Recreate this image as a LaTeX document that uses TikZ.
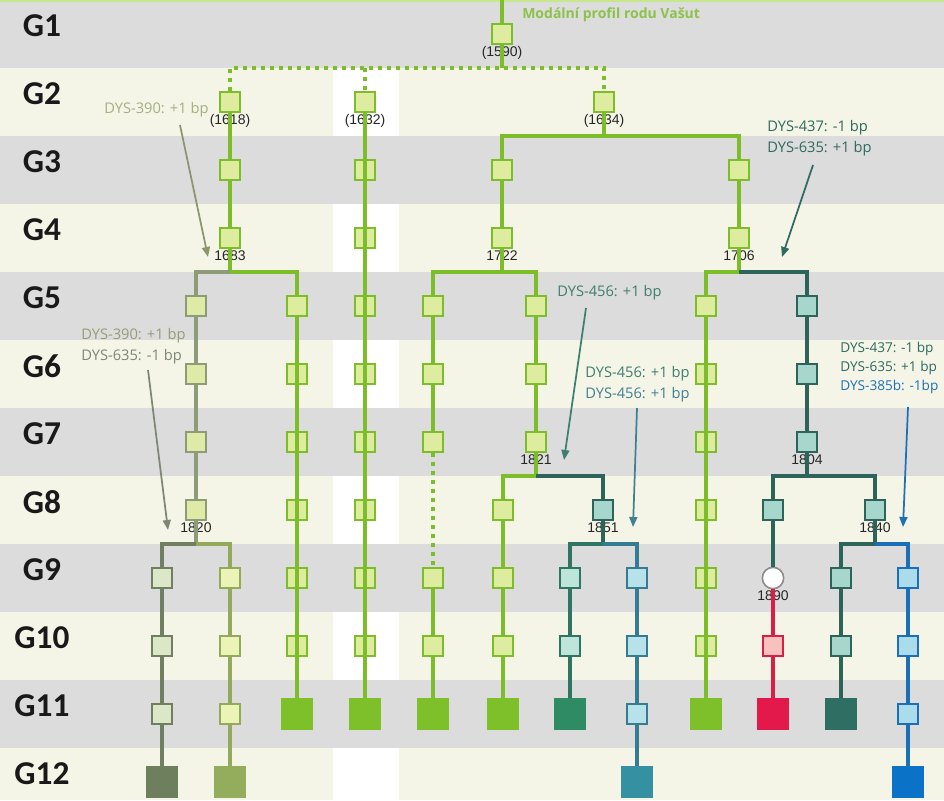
\documentclass[tikz,border=0pt]{standalone}
\usepackage{fontspec}
\setmainfont{Open Sans}
\newfontfamily\genfont{Carlito}
\newfontfamily\yearfont{Liberation Sans}
\usetikzlibrary{positioning}
\usetikzlibrary{arrows.meta}

% bands
\definecolor{bandgray}{HTML}{DCDCDC}
\definecolor{bandcream}{HTML}{F4F5E7}
\definecolor{topline}{HTML}{C6E88C}
% lineages: line / small fill / end square
\definecolor{lnGreen}{HTML}{7DBD2A}\definecolor{fiGreen}{HTML}{DDEC9F}\definecolor{enGreen}{HTML}{7DC02A}
\definecolor{lnOlive}{HTML}{8D9B78}\definecolor{fiOlive}{HTML}{DEEAA6}\definecolor{enOlive}{HTML}{8D9B78}
\definecolor{lnSlate}{HTML}{6F7F60}\definecolor{fiSlate}{HTML}{DCE7C7}\definecolor{enSlate}{HTML}{6E7F5E}
\definecolor{lnMoss}{HTML}{93A95C}\definecolor{fiMoss}{HTML}{EBF3B6}\definecolor{enMoss}{HTML}{93AD5C}
\definecolor{lnTeal}{HTML}{2D6459}\definecolor{fiTeal}{HTML}{A6D6CC}\definecolor{enTeal}{HTML}{2F6E62}
\definecolor{lnJade}{HTML}{2F7563}\definecolor{fiJade}{HTML}{BEE5DA}\definecolor{enJade}{HTML}{2E8B63}
\definecolor{lnPetrol}{HTML}{337C92}\definecolor{fiPetrol}{HTML}{B8E2EA}\definecolor{enPetrol}{HTML}{3590A2}
\definecolor{lnRed}{HTML}{D81F48}\definecolor{fiRed}{HTML}{F8C1BD}\definecolor{enRed}{HTML}{E2194A}
\definecolor{lnBlue}{HTML}{1B70B5}\definecolor{fiBlue}{HTML}{AADCEB}\definecolor{enBlue}{HTML}{0A73C8}
% notes
\definecolor{ntOlive}{HTML}{A4AF82}
\definecolor{ntGray}{HTML}{7E8674}
\definecolor{ntTeal}{HTML}{2E6A5F}
\definecolor{ntJade}{HTML}{3D7F6E}
\definecolor{ntPetrol}{HTML}{40808F}
\definecolor{ntBlue}{HTML}{1E70B2}
\definecolor{ntTitle}{HTML}{8CC24A}

\begin{document}
\begin{tikzpicture}[x=0.75pt,y=-0.75pt]
\tikzstyle{gen}=[draw, rectangle, minimum size=15pt, inner sep=0pt, line width=1.5pt]
\tikzstyle{tipsq}=[rectangle, minimum size=24pt, inner sep=0pt]
\tikzstyle{glbl}=[font=\genfont\bfseries\fontsize{25}{30}\selectfont, text=black!90]
\tikzstyle{yr}=[font=\yearfont\fontsize{10.5}{12}\selectfont, inner sep=1pt, text=black!85]
\tikzstyle{note}=[font=\fontsize{11}{15.5}\selectfont, align=left, inner sep=0pt, anchor=west]
\tikzstyle{ptr}=[line width=1.3pt, -{Triangle[length=7.5pt,width=6pt]}]
\tikzstyle{dots}=[dash pattern=on 3pt off 3.75pt]
\tikzset{sq/.style={gen, draw=ln#1, fill=fi#1},
         fin/.style={tipsq, fill=en#1},
         br/.style={line width=3pt, draw=ln#1}}

\useasboundingbox (0,0) rectangle (944,800);

% generation bands
\fill[bandcream] (0,0) rectangle (944,800);
\fill[white] (333,68) rectangle (399,800);
\foreach \g in {1,3,...,11}
  \fill[bandgray] (0,{68*(\g-1)}) rectangle (944,{68*\g});
\fill[topline] (0,0) rectangle (944,2);
\foreach \g in {1,...,12}
  \node[glbl] (G\g) at (42,{68*\g-42}) {G\g};

% founder and first sons
\coordinate (top) at (502,0);
\node[sq=Green] (r1) at (502,34) {};
\node[yr, below=0pt of r1] (y1590) {(1590)};
\coordinate (r1j) at (502,68);
\coordinate (bar2a) at (230,68);
\coordinate (bar2b) at (365,68);
\coordinate (bar2c) at (604,68);

\foreach \g in {2,...,4}
  \node[sq=Green] (p\g) at (230,{68*\g-34}) {};
\node[yr, below=0pt of p2] (y1618) {(1618)};
\node[yr, below=0pt of p4] (y1683) {1683};
\foreach \g in {2,...,10}
  \node[sq=Green] (q\g) at (365,{68*\g-34}) {};
\node[fin=Green] (q11) at (365,714) {};
\node[yr, below=0pt of q2] (y1632) {(1632)};
\node[sq=Green] (s2) at (604,102) {};
\node[yr, below=0pt of s2] (y1634) {(1634)};
\node[sq=Green] (u3) at (502,170) {};
\node[sq=Green] (u4) at (502,238) {};
\node[yr, below=0pt of u4] (y1722) {1722};
\node[sq=Green] (v3) at (739,170) {};
\node[sq=Green] (v4) at (739,238) {};
\node[yr, below=0pt of v4] (y1706) {1706};

% branch of 1683
\foreach \g in {5,...,8}
  \node[sq=Olive] (a\g) at (196,{68*\g-34}) {};
\node[yr, below=0pt of a8] (y1820) {1820};
\foreach \g in {9,...,11}{
  \node[sq=Slate] (aa\g) at (162,{68*\g-34}) {};
  \node[sq=Moss] (ab\g) at (230,{68*\g-34}) {};
}
\node[fin=Slate] (aa12) at (162,782) {};
\node[fin=Moss] (ab12) at (230,782) {};
\foreach \g in {5,...,10}
  \node[sq=Green] (b\g) at (297,{68*\g-34}) {};
\node[fin=Green] (b11) at (297,714) {};

% branch of 1722
\foreach \g in {5,6,7,9,10}
  \node[sq=Green] (c\g) at (433,{68*\g-34}) {};
\node[fin=Green] (c11) at (433,714) {};
\foreach \g in {5,...,7}
  \node[sq=Green] (d\g) at (536,{68*\g-34}) {};
\node[yr, below=0pt of d7] (y1821) {1821};
\foreach \g in {8,...,10}
  \node[sq=Green] (e\g) at (503,{68*\g-34}) {};
\node[fin=Green] (e11) at (503,714) {};
\node[sq=Teal] (f8) at (603,510) {};
\node[yr, below=0pt of f8] (y1851) {1851};
\node[sq=Jade] (fa9) at (570,578) {};
\node[sq=Jade] (fa10) at (570,646) {};
\node[fin=Jade] (fa11) at (570,714) {};
\foreach \g in {9,...,11}
  \node[sq=Petrol] (fb\g) at (637,{68*\g-34}) {};
\node[fin=Petrol] (fb12) at (637,782) {};

% branch of 1706
\foreach \g in {5,...,10}
  \node[sq=Green] (g\g) at (706,{68*\g-34}) {};
\node[fin=Green] (g11) at (706,714) {};
\foreach \g in {5,...,7}
  \node[sq=Teal] (h\g) at (807,{68*\g-34}) {};
\node[yr, below=0pt of h7] (y1804) {1804};
\node[sq=Teal] (k8) at (773,510) {};
\node[circle, draw=black!45, fill=white, line width=1.2pt, minimum size=16pt, inner sep=0pt] (k9) at (773,578) {};
\node[yr, below=0pt of k9] (y1890) {1890};
\node[sq=Red] (k10) at (773,646) {};
\node[fin=Red] (k11) at (773,714) {};
\node[sq=Teal] (m8) at (875,510) {};
\node[yr, below=0pt of m8] (y1840) {1840};
\node[sq=Teal] (ma9) at (841,578) {};
\node[sq=Teal] (ma10) at (841,646) {};
\node[fin=Teal] (ma11) at (841,714) {};
\foreach \g in {9,...,11}
  \node[sq=Blue] (mb\g) at (908,{68*\g-34}) {};
\node[fin=Blue] (mb12) at (908,782) {};

% junctions on band edges
\coordinate (s2j) at (604,136);
\coordinate (p4j) at (230,272);
\coordinate (u4j) at (502,272);
\coordinate (v4j) at (739,272);
\coordinate (d7j) at (536,476);
\coordinate (h7j) at (807,476);
\coordinate (a8j) at (196,544);
\coordinate (f8j) at (603,544);
\coordinate (m8j) at (875,544);

% lines of descent
\draw[br=Green] (top) -- (r1) -- (r1j);
\draw[br=Green, dots] (p2) -- (bar2a) -- (bar2c) -- (s2);
\draw[br=Green, dots] (bar2b) -- (q2);
\draw[br=Green] (q2) \foreach \g in {3,...,11}{-- (q\g)};
\draw[br=Green] (p2) -- (p3) -- (p4) -- (p4j) -| (b5) \foreach \g in {6,...,11}{-- (b\g)};
\draw[br=Olive] (p4j) -| (a5) -- (a6) -- (a7) -- (a8) -- (a8j);
\draw[br=Slate] (a8j) -| (aa9) -- (aa10) -- (aa11) -- (aa12);
\draw[br=Moss] (a8j) -| (ab9) -- (ab10) -- (ab11) -- (ab12);
\draw[br=Green] (s2) -- (s2j) -| (u3) -- (u4) -- (u4j) -| (c5) -- (c6) -- (c7);
\draw[br=Green, dots] (c7) -- (c9);
\draw[br=Green] (c9) -- (c10) -- (c11);
\draw[br=Green] (u4j) -| (d5) -- (d6) -- (d7) -- (d7j) -| (e8) -- (e9) -- (e10) -- (e11);
\draw[br=Teal] (d7j) -| (f8) -- (f8j);
\draw[br=Jade] (f8j) -| (fa9) -- (fa10) -- (fa11);
\draw[br=Petrol] (f8j) -| (fb9) -- (fb10) -- (fb11) -- (fb12);
\draw[br=Green] (s2j) -| (v3) -- (v4) -- (v4j) -| (g5) \foreach \g in {6,...,11}{-- (g\g)};
\draw[br=Teal] (v4j) -| (h5) -- (h6) -- (h7) -- (h7j) -| (k8) -- (k9);
\draw[br=Red] (k9) -- (k10) -- (k11);
\draw[br=Teal] (h7j) -| (m8) -- (m8j) -| (ma9) -- (ma10) -- (ma11);
\draw[br=Blue] (m8j) -| (mb9) -- (mb10) -- (mb11) -- (mb12);

% mutations
\node[font=\bfseries\fontsize{10.5}{12}\selectfont, text=ntTitle, anchor=west, inner sep=0pt] (modal) at (522,15) {Modální profil rodu Vašut};

\node[note, text=ntOlive] (n1) at (104,110) {DYS-390: +1 bp};
\coordinate (n1s) at (180,125); \coordinate (n1e) at (208,257);
\draw[ptr, ntOlive!85!black] (n1s) -- (n1e);

\node[note] (n2) at (81,346.5) {\textcolor{ntOlive!90!black}{DYS-390: +1 bp}\\\textcolor{ntGray}{DYS-635: -1 bp}};
\coordinate (n2s) at (148,370); \coordinate (n2e) at (168,530);
\draw[ptr, ntGray] (n2s) -- (n2e);

\node[note, text=ntTeal] (n3) at (767,138) {DYS-437: -1 bp\\DYS-635: +1 bp};
\coordinate (n3s) at (813,165); \coordinate (n3e) at (782,257);
\draw[ptr, ntTeal] (n3s) -- (n3e);

\node[note, text=ntJade] (n4) at (557,293) {DYS-456: +1 bp};
\coordinate (n4s) at (586,308); \coordinate (n4e) at (564,460);
\draw[ptr, ntJade] (n4s) -- (n4e);

\node[note] (n5) at (585,384) {\textcolor{ntJade}{DYS-456: +1 bp}\\\textcolor{ntPetrol}{DYS-456: +1 bp}};
\coordinate (n5s) at (637,408); \coordinate (n5e) at (633,527);
\draw[ptr, ntPetrol] (n5s) -- (n5e);

\node[note, font=\fontsize{10.2}{14.5}\selectfont] (n6) at (840,368) {\textcolor{ntTeal}{DYS-437: -1 bp}\\\textcolor{ntTeal}{DYS-635: +1 bp}\\\textcolor{ntBlue}{DYS-385b: -1bp}};
\coordinate (n6s) at (908,407); \coordinate (n6e) at (903,527);
\draw[ptr, ntBlue] (n6s) -- (n6e);
\end{tikzpicture}
\end{document}
